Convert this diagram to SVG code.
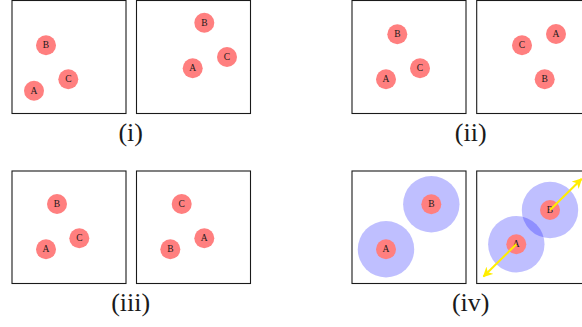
<svg xmlns="http://www.w3.org/2000/svg" width="582" height="327" viewBox="0 0 582 327">
  <style>
    .box { fill: #ffffff; stroke: #1a1a1a; stroke-width: 1.1; }
    .dot { fill: #ff7f7f; }
    .halo { fill: #0000ff; fill-opacity: 0.25; }
    .lbl { font-family: "Liberation Serif", serif; font-size: 9.5px; fill: #1a1a1a; text-anchor: middle; dominant-baseline: central; }
    .cap { font-family: "Liberation Serif", serif; font-size: 26px; fill: #1a1a1a; text-anchor: middle; }
    .arrow { stroke: #ffee00; stroke-width: 2; fill: none; marker-end: url(#tip); }
  </style>
  <defs>
    <marker id="tip" viewBox="0 0 10 10" refX="9" refY="5" markerWidth="5" markerHeight="5" orient="auto" markerUnits="strokeWidth">
      <path d="M0,0 L10,5 L0,10 L3,5 Z" fill="#ffee00"/>
    </marker>
  </defs>

  <!-- (i) -->
  <g id="panel-i">
    <rect class="box" x="12" y="0.5" width="114" height="113"/>
    <rect class="box" x="136.5" y="0.5" width="114" height="113"/>
    <g id="i-left-B"><circle class="dot" cx="46" cy="45.3" r="10"/><text class="lbl" x="46" y="45.3">B</text></g>
    <g id="i-left-C"><circle class="dot" cx="68.3" cy="79.3" r="10"/><text class="lbl" x="68.3" y="79.3">C</text></g>
    <g id="i-left-A"><circle class="dot" cx="34" cy="90.7" r="10"/><text class="lbl" x="34" y="90.7">A</text></g>
    <g id="i-right-B"><circle class="dot" cx="204.3" cy="22.7" r="10"/><text class="lbl" x="204.3" y="22.7">B</text></g>
    <g id="i-right-C"><circle class="dot" cx="227" cy="57" r="10"/><text class="lbl" x="227" y="57">C</text></g>
    <g id="i-right-A"><circle class="dot" cx="192.7" cy="68.3" r="10"/><text class="lbl" x="192.7" y="68.3">A</text></g>
    <text class="cap" x="130.7" y="141">(i)</text>
  </g>

  <!-- (ii) -->
  <g id="panel-ii">
    <rect class="box" x="352" y="0.5" width="114" height="113"/>
    <rect class="box" x="476.7" y="0.5" width="114" height="113"/>
    <g id="ii-left-B"><circle class="dot" cx="397.3" cy="34.3" r="10"/><text class="lbl" x="397.3" y="34.3">B</text></g>
    <g id="ii-left-C"><circle class="dot" cx="420" cy="68.3" r="10"/><text class="lbl" x="420" y="68.3">C</text></g>
    <g id="ii-left-A"><circle class="dot" cx="386" cy="79.3" r="10"/><text class="lbl" x="386" y="79.3">A</text></g>
    <g id="ii-right-A"><circle class="dot" cx="556" cy="34" r="10"/><text class="lbl" x="556" y="34">A</text></g>
    <g id="ii-right-C"><circle class="dot" cx="522" cy="45.3" r="10"/><text class="lbl" x="522" y="45.3">C</text></g>
    <g id="ii-right-B"><circle class="dot" cx="544.7" cy="79.3" r="10"/><text class="lbl" x="544.7" y="79.3">B</text></g>
    <text class="cap" x="470.7" y="141">(ii)</text>
  </g>

  <!-- (iii) -->
  <g id="panel-iii">
    <rect class="box" x="12" y="171" width="114" height="112.5"/>
    <rect class="box" x="136.5" y="171" width="114" height="112.5"/>
    <g id="iii-left-B"><circle class="dot" cx="57" cy="204" r="10"/><text class="lbl" x="57" y="204">B</text></g>
    <g id="iii-left-C"><circle class="dot" cx="79.3" cy="238.3" r="10"/><text class="lbl" x="79.3" y="238.3">C</text></g>
    <g id="iii-left-A"><circle class="dot" cx="46" cy="249.3" r="10"/><text class="lbl" x="46" y="249.3">A</text></g>
    <g id="iii-right-C"><circle class="dot" cx="181.7" cy="204" r="10"/><text class="lbl" x="181.7" y="204">C</text></g>
    <g id="iii-right-A"><circle class="dot" cx="204.3" cy="238.3" r="10"/><text class="lbl" x="204.3" y="238.3">A</text></g>
    <g id="iii-right-B"><circle class="dot" cx="170.3" cy="249.3" r="10"/><text class="lbl" x="170.3" y="249.3">B</text></g>
    <text class="cap" x="130.7" y="311.4">(iii)</text>
  </g>

  <!-- (iv) -->
  <g id="panel-iv">
    <rect class="box" x="352" y="171" width="114" height="112.5"/>
    <rect class="box" x="476.7" y="171" width="114" height="112.5"/>
    <g id="iv-left-A"><circle class="halo" cx="386" cy="249.3" r="28.2"/><circle class="dot" cx="386" cy="249.3" r="10"/><text class="lbl" x="386" y="249.3">A</text></g>
    <g id="iv-left-B"><circle class="halo" cx="431.3" cy="204.3" r="28.2"/><circle class="dot" cx="431.3" cy="204.3" r="10"/><text class="lbl" x="431.3" y="204.3">B</text></g>
    <g id="iv-right-A"><circle class="halo" cx="516.3" cy="244.3" r="28.2"/><circle class="dot" cx="516.3" cy="244.3" r="10"/><text class="lbl" x="516.3" y="244.3">A</text></g>
    <g id="iv-right-B"><circle class="halo" cx="550" cy="210" r="28.2"/><circle class="dot" cx="550" cy="210" r="10"/><text class="lbl" x="550" y="210">B</text></g>
    <g id="connectors">
      <line class="arrow" x1="516.3" y1="244.3" x2="483.5" y2="276.5"/>
      <line class="arrow" x1="550" y1="210" x2="581.5" y2="179"/>
    </g>
    <text class="cap" x="470.7" y="311.4">(iv)</text>
  </g>
</svg>
